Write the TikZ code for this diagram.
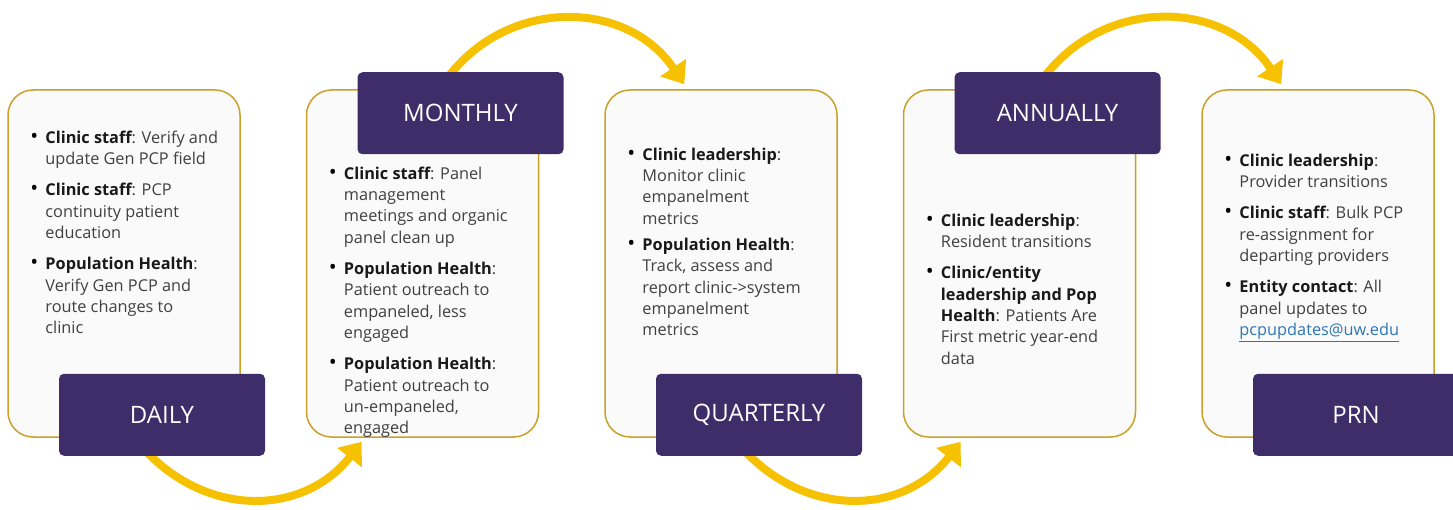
\documentclass[tikz,border=0pt]{standalone}
\usepackage{fontspec}
\setmainfont{Open Sans}
\usetikzlibrary{positioning,arrows.meta,backgrounds}

\definecolor{uwpurple}{RGB}{62,45,104}
\definecolor{panelgold}{RGB}{201,160,40}
\definecolor{arrowgold}{RGB}{245,193,0}
\definecolor{bodygray}{RGB}{64,64,64}
\definecolor{linkblue}{RGB}{46,117,182}

\newcommand{\rolename}[1]{\textbf{\color{black!90}#1}}
\newcommand{\bul}{\hspace{-4pt}{\color{black}\fontsize{21}{21.3}\selectfont\textbullet}}

\tikzset{
  panel/.style={draw=panelgold, line width=1.5pt, fill=white!98!black,
    rounded corners=25pt, minimum width=232pt, minimum height=347pt, inner sep=0pt},
  tag/.style={fill=uwpurple, text=white, rounded corners=5pt,
    minimum width=206pt, minimum height=82pt, inner sep=0pt,
    font=\fontsize{24}{29}\selectfont},
  itemtext/.style={anchor=north west, inner sep=0pt, text=bodygray,
    font=\fontsize{16.3}{21.3}\selectfont},
  cyclearrow/.style={draw=arrowgold, line width=8pt, looseness=1.1,
    -{Triangle[length=20pt,width=30pt]}}
}

\begin{document}
\begin{tikzpicture}[x=1pt, y=1pt]
\useasboundingbox (0,0) rectangle (1453,509);
\clip (0,0) rectangle (1453,509);

% panels
\node[panel] (p1) at (124,245.5) {};
\node[panel, right=65pt of p1] (p2) {};
\node[panel, right=65pt of p2] (p3) {};
\node[panel, right=65pt of p3] (p4) {};
\node[panel, right=65pt of p4] (p5) {};

% panel texts
\node[itemtext] (t1) at ([xshift=27pt,yshift=-39pt]p1.north west) {%
\begin{tabular}{@{}p{11pt}@{}l@{}}
\bul & \rolename{Clinic staff}: Verify and\\
     & update Gen PCP field\\[10pt]
\bul & \rolename{Clinic staff}: PCP\\
     & continuity patient\\
     & education\\[10pt]
\bul & \rolename{Population Health}:\\
     & Verify Gen PCP and\\
     & route changes to\\
     & clinic
\end{tabular}};

\node[itemtext] (t2) at ([xshift=27pt,yshift=-75pt]p2.north west) {%
\begin{tabular}{@{}p{11pt}@{}l@{}}
\bul & \rolename{Clinic staff}: Panel\\
     & management\\
     & meetings and organic\\
     & panel clean up\\[10pt]
\bul & \rolename{Population Health}:\\
     & Patient outreach to\\
     & empaneled, less\\
     & engaged\\[10pt]
\bul & \rolename{Population Health}:\\
     & Patient outreach to\\
     & un-empaneled,\\
     & engaged
\end{tabular}};

\node[itemtext] (t3) at ([xshift=27pt,yshift=-56pt]p3.north west) {%
\begin{tabular}{@{}p{11pt}@{}l@{}}
\bul & \rolename{Clinic leadership}:\\
     & Monitor clinic\\
     & empanelment\\
     & metrics\\[5pt]
\bul & \rolename{Population Health}:\\
     & Track, assess and\\
     & report clinic->system\\
     & empanelment\\
     & metrics
\end{tabular}};

\node[itemtext] (t4) at ([xshift=27pt,yshift=-122pt]p4.north west) {%
\begin{tabular}{@{}p{11pt}@{}l@{}}
\bul & \rolename{Clinic leadership}:\\
     & Resident transitions\\[10pt]
\bul & \rolename{Clinic/entity}\\
     & \rolename{leadership and Pop}\\
     & \rolename{Health}: Patients Are\\
     & First metric year-end\\
     & data
\end{tabular}};

\node[itemtext] (t5) at ([xshift=27pt,yshift=-62pt]p5.north west) {%
\begin{tabular}{@{}p{11pt}@{}l@{}}
\bul & \rolename{Clinic leadership}:\\
     & Provider transitions\\[10pt]
\bul & \rolename{Clinic staff}: Bulk PCP\\
     & re-assignment for\\
     & departing providers\\[10pt]
\bul & \rolename{Entity contact}: All\\
     & panel updates to\\
     & {\color{linkblue}\underline{pcpupdates@uw.edu}}
\end{tabular}};

% frequency tags
\node[tag] (daily) at ([xshift=38pt,yshift=23pt]p1.south) {DAILY};
\node[tag] (monthly) at ([xshift=38pt,yshift=-24pt]p2.north) {MONTHLY};
\node[tag] (quarterly) at ([xshift=38pt,yshift=23pt]p3.south) {QUARTERLY};
\node[tag] (annually) at ([xshift=38pt,yshift=-24pt]p4.north) {ANNUALLY};
\node[tag] (prn) at ([xshift=38pt,yshift=23pt]p5.south) {PRN};

% cycle arrows
\begin{scope}[on background layer]
\draw[cyclearrow] ([xshift=86pt,yshift=6pt]daily.south west) to[out=-47,in=-128] ([xshift=56pt,yshift=-4pt]p2.south west);
\draw[cyclearrow] ([xshift=90pt,yshift=-6pt]monthly.north west) to[out=53,in=124] ([xshift=80pt,yshift=5pt]p3.north west);
\draw[cyclearrow] ([xshift=88pt,yshift=6pt]quarterly.south west) to[out=-47,in=-128] ([xshift=58pt,yshift=-4pt]p4.south west);
\draw[cyclearrow] ([xshift=89pt,yshift=-6pt]annually.north west) to[out=53,in=124] ([xshift=80pt,yshift=5pt]p5.north west);
\end{scope}

\end{tikzpicture}
\end{document}
